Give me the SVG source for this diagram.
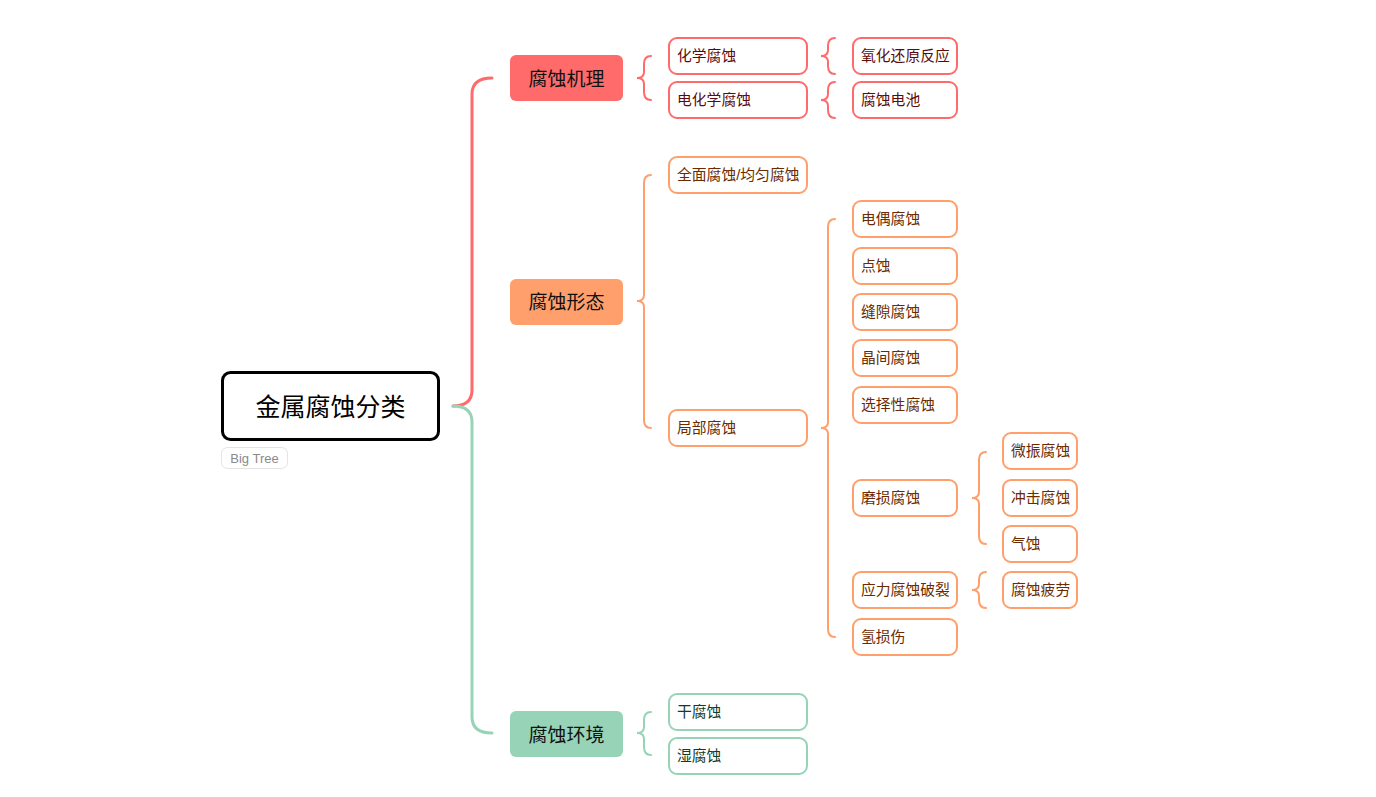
<svg xmlns="http://www.w3.org/2000/svg" width="1376" height="797" viewBox="0 0 1376 797">
<style>
text{font-family:"Liberation Sans","Noto Sans CJK SC",sans-serif;dominant-baseline:central}
.c{fill:none;stroke-width:3;stroke-linecap:round}
.b{fill:none;stroke-width:2;stroke-linecap:round}
.n{fill:#fff;stroke-width:2}
.t{font-size:14.8px}
.r{stroke:#ff6b6b}
.o{stroke:#ff9f6b}
.g{stroke:#97d3b6}
.tr{fill:#5c0a0a}
.to{fill:#6b2a00}
.tg{fill:#0f3d2a}
.m{font-size:19px;fill:#111;text-anchor:middle}
</style>
<rect width="1376" height="797" fill="#fff"/>
<g id="connectors">
<path class="c r" d="M453,406 Q472,406 472,390 V94 Q472,78 492,78"/>
<path class="c g" d="M453,406 Q472,406 472,422 V717 Q472,733 492,733"/>
<path class="b r" d="M651,56 Q644,56 644,64 V72 Q644,78 637,78 Q644,78 644,84 V92 Q644,100 651,100"/>
<path class="b r" d="M835,38 Q828,38 828,46 V50 Q828,56 821,56 Q828,56 828,62 V66 Q828,74 835,74"/>
<path class="b r" d="M835,82 Q828,82 828,90 V94 Q828,100 821,100 Q828,100 828,106 V110 Q828,118 835,118"/>
<path class="b o" d="M651,175 Q644,175 644,183 V295 Q644,301 637,301 Q644,301 644,307 V420 Q644,428 651,428"/>
<path class="b o" d="M835,219 Q828,219 828,227 V422 Q828,428 821,428 Q828,428 828,434 V629 Q828,637 835,637"/>
<path class="b o" d="M986,452 Q979,452 979,460 V492 Q979,498 972,498 Q979,498 979,504 V536 Q979,544 986,544"/>
<path class="b o" d="M986,572 Q979,572 979,580 V584 Q979,590 972,590 Q979,590 979,596 V600 Q979,608 986,608"/>
<path class="b g" d="M651,712 Q644,712 644,720 V727 Q644,733 637,733 Q644,733 644,739 V747 Q644,755 651,755"/>
</g>
<g id="root">
<rect x="222.5" y="372.5" width="216" height="67" rx="8" fill="#fff" stroke="#000" stroke-width="3"/>
<text x="330.5" y="407" font-size="25" fill="#000" text-anchor="middle">金属腐蚀分类</text>
</g>
<g id="bigtree">
<rect x="221.5" y="447.5" width="66" height="21" rx="6" fill="#fff" stroke="#e3e3e3" stroke-width="1"/>
<text x="254.5" y="458" font-size="13" fill="#8a8a8a" text-anchor="middle">Big Tree</text>
</g>
<g id="b1"><rect x="510" y="55" width="113" height="46" rx="6" fill="#ff6b6b"/><text class="m" x="566.5" y="79">腐蚀机理</text></g>
<g id="b2"><rect x="510" y="279" width="113" height="46" rx="6" fill="#ff9f6b"/><text class="m" x="566.5" y="302">腐蚀形态</text></g>
<g id="b3"><rect x="510" y="711" width="113" height="46" rx="6" fill="#97d3b6"/><text class="m" x="566.5" y="735">腐蚀环境</text></g>
<g id="n1"><rect class="n r" x="669" y="38" width="138" height="36" rx="8"/><text class="t tr" x="677" y="56">化学腐蚀</text></g>
<g id="n2"><rect class="n r" x="669" y="82" width="138" height="36" rx="8"/><text class="t tr" x="677" y="100">电化学腐蚀</text></g>
<g id="n3"><rect class="n r" x="853" y="38" width="104" height="36" rx="8"/><text class="t tr" x="861" y="56">氧化还原反应</text></g>
<g id="n4"><rect class="n r" x="853" y="82" width="104" height="36" rx="8"/><text class="t tr" x="861" y="100">腐蚀电池</text></g>
<g id="n5"><rect class="n o" x="669" y="157" width="138" height="36" rx="8"/><text class="t to" x="677" y="175">全面腐蚀/均匀腐蚀</text></g>
<g id="n6"><rect class="n o" x="669" y="410" width="138" height="36" rx="8"/><text class="t to" x="677" y="428">局部腐蚀</text></g>
<g id="n7"><rect class="n o" x="853" y="201" width="104" height="36" rx="8"/><text class="t to" x="861" y="219">电偶腐蚀</text></g>
<g id="n8"><rect class="n o" x="853" y="248" width="104" height="36" rx="8"/><text class="t to" x="861" y="266">点蚀</text></g>
<g id="n9"><rect class="n o" x="853" y="294" width="104" height="36" rx="8"/><text class="t to" x="861" y="312">缝隙腐蚀</text></g>
<g id="n10"><rect class="n o" x="853" y="340" width="104" height="36" rx="8"/><text class="t to" x="861" y="358">晶间腐蚀</text></g>
<g id="n11"><rect class="n o" x="853" y="387" width="104" height="36" rx="8"/><text class="t to" x="861" y="405">选择性腐蚀</text></g>
<g id="n12"><rect class="n o" x="853" y="480" width="104" height="36" rx="8"/><text class="t to" x="861" y="498">磨损腐蚀</text></g>
<g id="n13"><rect class="n o" x="853" y="572" width="104" height="36" rx="8"/><text class="t to" x="861" y="590">应力腐蚀破裂</text></g>
<g id="n14"><rect class="n o" x="853" y="619" width="104" height="36" rx="8"/><text class="t to" x="861" y="637">氢损伤</text></g>
<g id="n15"><rect class="n o" x="1003" y="433" width="74" height="36" rx="8"/><text class="t to" x="1011" y="451">微振腐蚀</text></g>
<g id="n16"><rect class="n o" x="1003" y="480" width="74" height="36" rx="8"/><text class="t to" x="1011" y="498">冲击腐蚀</text></g>
<g id="n17"><rect class="n o" x="1003" y="526" width="74" height="36" rx="8"/><text class="t to" x="1011" y="544">气蚀</text></g>
<g id="n18"><rect class="n o" x="1003" y="572" width="74" height="36" rx="8"/><text class="t to" x="1011" y="590">腐蚀疲劳</text></g>
<g id="n19"><rect class="n g" x="669" y="694" width="138" height="36" rx="8"/><text class="t tg" x="677" y="712">干腐蚀</text></g>
<g id="n20"><rect class="n g" x="669" y="738" width="138" height="36" rx="8"/><text class="t tg" x="677" y="756">湿腐蚀</text></g>
</svg>
